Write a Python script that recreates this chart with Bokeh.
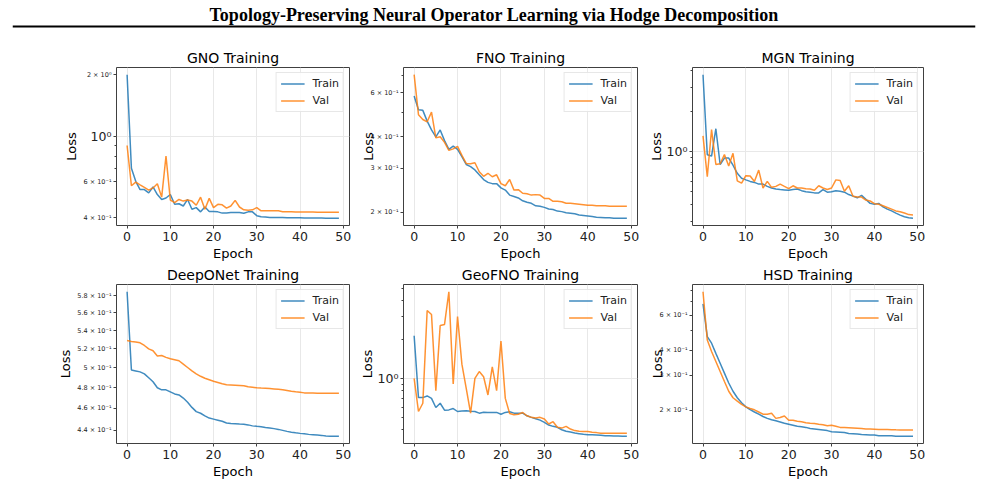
import numpy as np
from bokeh.plotting import figure
from bokeh.layouts import column, row
from bokeh.models import Range1d, FixedTicker, Label, Span
from bokeh.embed import file_html
from bokeh.resources import INLINE

SUPTITLE = "Topology-Preserving Neural Operator Learning via Hodge Decomposition"
epochs = list(range(50))
x_ticks = [0, 10, 20, 30, 40, 50]

gno_train = [2.0, 0.698, 0.603, 0.55, 0.55, 0.53, 0.566, 0.52, 0.492, 0.50,
             0.52, 0.466, 0.469, 0.457, 0.492, 0.441, 0.449, 0.428, 0.452, 0.430,
             0.430, 0.428, 0.422, 0.422, 0.425, 0.425, 0.425, 0.421, 0.428, 0.428,
             0.410, 0.405, 0.404, 0.402, 0.402, 0.402, 0.402, 0.401, 0.401, 0.400,
             0.400, 0.399, 0.399, 0.399, 0.399, 0.399, 0.398, 0.398, 0.398, 0.398]
gno_val = [0.902, 0.574, 0.598, 0.58, 0.564, 0.546, 0.56, 0.587, 0.505, 0.802,
           0.489, 0.475, 0.492, 0.483, 0.489, 0.483, 0.461, 0.505, 0.441, 0.498,
           0.449, 0.466, 0.463, 0.446, 0.457, 0.487, 0.452, 0.438, 0.436, 0.438,
           0.449, 0.433, 0.433, 0.433, 0.433, 0.433, 0.429, 0.428, 0.428, 0.427,
           0.427, 0.427, 0.427, 0.427, 0.426, 0.426, 0.426, 0.426, 0.426, 0.426]

fno_train = [0.582, 0.513, 0.51, 0.462, 0.426, 0.40, 0.426, 0.386, 0.356, 0.367,
             0.356, 0.333, 0.31, 0.304, 0.295, 0.282, 0.27, 0.263, 0.26, 0.26,
             0.25, 0.245, 0.234, 0.231, 0.228, 0.222, 0.219, 0.217, 0.212, 0.211,
             0.209, 0.206, 0.205, 0.202, 0.201, 0.199, 0.198, 0.197, 0.195, 0.194,
             0.193, 0.192, 0.191, 0.1905, 0.190, 0.190, 0.189, 0.189, 0.189, 0.189]
fno_val = [0.708, 0.49, 0.469, 0.459, 0.502, 0.396, 0.40, 0.38, 0.353, 0.358,
           0.366, 0.337, 0.313, 0.312, 0.315, 0.29, 0.278, 0.286, 0.277, 0.282,
           0.26, 0.255, 0.27, 0.245, 0.246, 0.238, 0.237, 0.234, 0.235, 0.234,
           0.227, 0.227, 0.221, 0.221, 0.22, 0.217, 0.217, 0.216, 0.215, 0.214,
           0.213, 0.213, 0.212, 0.212, 0.212, 0.211, 0.211, 0.211, 0.211, 0.211]

mgn_train = [3.75, 0.946, 0.925, 1.48, 0.80, 0.894, 0.894, 0.79, 0.687, 0.632,
             0.614, 0.598, 0.588, 0.571, 0.571, 0.549, 0.534, 0.525, 0.52, 0.517,
             0.513, 0.52, 0.525, 0.51, 0.50, 0.497, 0.491, 0.491, 0.52, 0.497,
             0.50, 0.51, 0.505, 0.497, 0.477, 0.464, 0.451, 0.47, 0.439, 0.41,
             0.404, 0.41, 0.386, 0.371, 0.36, 0.347, 0.335, 0.326, 0.32, 0.317]
mgn_val = [1.31, 0.65, 1.46, 0.80, 0.81, 0.95, 0.78, 0.97, 0.604, 0.58,
           0.66, 0.657, 0.598, 0.727, 0.534, 0.598, 0.54, 0.549, 0.571, 0.549,
           0.528, 0.555, 0.534, 0.534, 0.528, 0.525, 0.513, 0.555, 0.534, 0.52,
           0.534, 0.614, 0.607, 0.505, 0.555, 0.464, 0.457, 0.457, 0.434, 0.427,
           0.408, 0.404, 0.393, 0.382, 0.371, 0.36, 0.355, 0.347, 0.338, 0.336]

deeponet_train = [0.585, 0.498, 0.497, 0.496, 0.494, 0.49, 0.486, 0.48, 0.478, 0.478,
                  0.476, 0.474, 0.473, 0.47, 0.466, 0.461, 0.457, 0.4555, 0.453, 0.451,
                  0.450, 0.449, 0.448, 0.4465, 0.446, 0.4458, 0.4455, 0.4453, 0.4447, 0.4438,
                  0.4434, 0.4431, 0.4424, 0.4419, 0.4413, 0.4406, 0.4397, 0.4388, 0.4381, 0.4375,
                  0.4370, 0.4366, 0.4361, 0.4358, 0.4355, 0.4352, 0.4347, 0.4345, 0.4345, 0.4344]
deeponet_val = [0.529, 0.528, 0.5275, 0.5266, 0.5237, 0.520, 0.518, 0.5125, 0.513, 0.511,
                0.5095, 0.5085, 0.5075, 0.504, 0.5005, 0.497, 0.494, 0.4915, 0.4895, 0.488,
                0.4865, 0.4853, 0.484, 0.483, 0.4828, 0.4826, 0.4823, 0.482, 0.481, 0.4805,
                0.480, 0.4797, 0.4795, 0.4793, 0.4789, 0.4785, 0.478, 0.4773, 0.4766, 0.476,
                0.4757, 0.475, 0.4749, 0.4748, 0.4747, 0.4746, 0.4746, 0.4746, 0.4746, 0.4746]

geofno_train = [2.14, 0.71, 0.71, 0.731, 0.70, 0.595, 0.642, 0.567, 0.57, 0.584,
                0.554, 0.56, 0.562, 0.556, 0.554, 0.538, 0.547, 0.545, 0.545, 0.545,
                0.528, 0.545, 0.551, 0.538, 0.536, 0.538, 0.513, 0.499, 0.487, 0.475,
                0.456, 0.435, 0.425, 0.418, 0.40, 0.389, 0.384, 0.377, 0.373, 0.369,
                0.366, 0.365, 0.364, 0.362, 0.36, 0.359, 0.358, 0.357, 0.356, 0.356]
geofno_val = [1.0, 0.554, 0.642, 3.36, 3.13, 0.804, 2.57, 2.62, 4.70, 0.905,
              3.02, 1.29, 0.838, 0.538, 1.0, 1.13, 1.03, 0.744, 1.23, 0.804,
              1.95, 0.70, 0.535, 0.522, 0.528, 0.544, 0.513, 0.499, 0.493, 0.499,
              0.484, 0.443, 0.462, 0.418, 0.412, 0.425, 0.405, 0.394, 0.389, 0.388,
              0.387, 0.382, 0.380, 0.376, 0.375, 0.375, 0.375, 0.375, 0.375, 0.375]

hsd_train = [0.684, 0.468, 0.434, 0.386, 0.344, 0.307, 0.274, 0.249, 0.231, 0.218,
             0.208, 0.2015, 0.196, 0.191, 0.186, 0.182, 0.179, 0.177, 0.1745, 0.172,
             0.170, 0.168, 0.166, 0.165, 0.164, 0.162, 0.161, 0.160, 0.159, 0.158,
             0.156, 0.1555, 0.155, 0.1545, 0.153, 0.1525, 0.152, 0.151, 0.1505, 0.150,
             0.150, 0.149, 0.149, 0.149, 0.149, 0.148, 0.148, 0.148, 0.148, 0.148]
hsd_val = [0.787, 0.45, 0.394, 0.351, 0.313, 0.279, 0.249, 0.231, 0.222, 0.214,
           0.208, 0.204, 0.201, 0.196, 0.191, 0.191, 0.193, 0.182, 0.184, 0.187,
           0.178, 0.178, 0.176, 0.175, 0.173, 0.172, 0.1715, 0.170, 0.169, 0.167,
           0.168, 0.166, 0.164, 0.164, 0.1635, 0.163, 0.1625, 0.162, 0.161, 0.161,
           0.1605, 0.160, 0.160, 0.160, 0.1598, 0.1595, 0.1593, 0.159, 0.159, 0.159]

# y tick specification per panel: labelled ticks, their labels, unlabelled minor ticks
gno_ticks = [0.4, 0.6, 1.0, 2.0]
gno_labels = ["4 × 10⁻¹", "6 × 10⁻¹", "", "2 × 10⁰"]
gno_minor = [0.5, 0.7, 0.8, 0.9]
fno_ticks = [0.2, 0.3, 0.4, 0.6]
fno_labels = ["2 × 10⁻¹", "3 × 10⁻¹", "4 × 10⁻¹", "6 × 10⁻¹"]
fno_minor = [0.5, 0.7]
mgn_ticks = [1.0]
mgn_labels = ["10⁰"]
mgn_minor = [0.3, 0.4, 0.5, 0.6, 0.7, 0.8, 0.9, 2.0, 3.0, 4.0]
deeponet_ticks = [0.44, 0.46, 0.48, 0.5, 0.52, 0.54, 0.56, 0.58]
deeponet_labels = ["4.4 × 10⁻¹", "4.6 × 10⁻¹", "4.8 × 10⁻¹", "5 × 10⁻¹",
                   "5.2 × 10⁻¹", "5.4 × 10⁻¹", "5.6 × 10⁻¹", "5.8 × 10⁻¹"]
deeponet_minor = []
geofno_ticks = [1.0]
geofno_labels = ["10⁰"]
geofno_minor = [0.4, 0.5, 0.6, 0.7, 0.8, 0.9, 2.0, 3.0, 4.0, 5.0]
hsd_ticks = [0.2, 0.3, 0.4, 0.6]
hsd_labels = ["2 × 10⁻¹", "3 × 10⁻¹", "4 × 10⁻¹", "6 × 10⁻¹"]
hsd_minor = [0.5, 0.7, 0.8]

TRAIN_C = "#1f77b4"
VAL_C = "#ff7f0e"
FONT = "DejaVu Sans"
X_START, X_END = -2.45, 51.45


def panel(title, train, val, ticks, labels, minor, width, height, bl, br, bt, bb,
          tick_font="6.5px", big_decade=False, label_standoff=-9):
    lo = np.log10(min(min(train), min(val)))
    hi = np.log10(max(max(train), max(val)))
    pad = 0.05 * (hi - lo)
    ymin, ymax = 10 ** (lo - pad), 10 ** (hi + pad)
    p = figure(width=width, height=height, y_axis_type="log",
               x_range=Range1d(X_START, X_END), y_range=Range1d(ymin, ymax),
               output_backend="svg", toolbar_location=None,
               min_border_left=bl, min_border_right=br,
               min_border_top=bt, min_border_bottom=bb)
    p.title.text = title
    p.title.align = "center"
    p.title.text_font = FONT
    p.title.text_font_size = "14px"
    p.title.text_font_style = "normal"
    p.title.text_color = "black"
    p.title.standoff = 3
    p.outline_line_color = "#404040"
    p.outline_line_width = 1
    p.background_fill_color = "white"

    p.line(epochs, train, line_color=TRAIN_C, line_width=1.5, line_alpha=0.85,
           legend_label="Train")
    p.line(epochs, val, line_color=VAL_C, line_width=1.5, line_alpha=0.85,
           legend_label="Val")

    p.xaxis.ticker = FixedTicker(ticks=x_ticks, minor_ticks=[])
    p.xaxis.axis_label = "Epoch"
    p.yaxis.ticker = FixedTicker(ticks=ticks, minor_ticks=minor)
    p.yaxis.major_label_overrides = {t: l for t, l in zip(ticks, labels)}
    p.yaxis.axis_label = "Loss"
    p.yaxis.major_label_text_font_size = tick_font
    p.xaxis.major_label_text_font_size = "12.5px"
    for ax in (p.xaxis, p.yaxis):
        ax.axis_label_text_font = FONT
        ax.axis_label_text_font_size = "13px"
        ax.axis_label_text_font_style = "normal"
        ax.axis_label_text_color = "black"
        ax.major_label_text_font = FONT
        ax.major_label_text_color = "#222222"
        ax.axis_line_color = None
        ax.major_tick_line_color = "#404040"
        ax.minor_tick_line_color = "#404040"
        ax.major_tick_in = 0
        ax.major_tick_out = 3
        ax.minor_tick_in = 0
        ax.minor_tick_out = 2
    p.yaxis.major_label_standoff = 2
    p.yaxis.axis_label_standoff = label_standoff
    p.xaxis.major_label_standoff = 3
    p.xaxis.axis_label_standoff = 2

    p.xgrid.ticker = FixedTicker(ticks=x_ticks)
    p.xgrid.grid_line_color = "#e8e8e8"
    if ymin < 1.0 < ymax:
        p.ygrid.ticker = FixedTicker(ticks=[1.0])
        p.ygrid.grid_line_color = "#e8e8e8"
    else:
        p.ygrid.grid_line_color = None

    if big_decade:
        p.add_layout(Label(x=X_START, y=1.0, x_offset=-5, x_units="data", y_units="data",
                           text="10⁰", text_align="right", text_baseline="middle",
                           text_font=FONT, text_font_size="12.5px",
                           text_color="#222222"), "left")

    lg = p.legend[0]
    lg.location = "top_right"
    lg.label_text_font = FONT
    lg.label_text_font_size = "11px"
    lg.label_text_color = "#222222"
    lg.glyph_width = 24
    lg.glyph_height = 13
    lg.label_height = 13
    lg.label_standoff = 8
    lg.spacing = 4
    lg.padding = 4
    lg.margin = 5
    lg.border_line_color = "#d0d0d0"
    lg.border_line_width = 1
    lg.background_fill_color = "white"
    lg.background_fill_alpha = 0.85
    return p


W1, W2, W3 = 355, 290, 340
H1, H2 = 227, 218

f1 = panel("GNO Training", gno_train, gno_val, gno_ticks, gno_labels, gno_minor,
           W1, H1, 116, 6, 31, 35, big_decade=True, label_standoff=1)
f2 = panel("FNO Training", fno_train, fno_val, fno_ticks, fno_labels, fno_minor,
           W2, H1, 48, 8, 31, 35)
f3 = panel("MGN Training", mgn_train, mgn_val, mgn_ticks, mgn_labels, mgn_minor,
           W3, H1, 47, 62, 31, 35, tick_font="12.5px", label_standoff=0)
f4 = panel("DeepONet Training", deeponet_train, deeponet_val, deeponet_ticks,
           deeponet_labels, deeponet_minor, W1, H2, 116, 6, 19, 38, label_standoff=1)
f5 = panel("GeoFNO Training", geofno_train, geofno_val, geofno_ticks, geofno_labels,
           geofno_minor, W2, H2, 48, 8, 19, 38, tick_font="12.5px", label_standoff=0)
f6 = panel("HSD Training", hsd_train, hsd_val, hsd_ticks, hsd_labels, hsd_minor,
           W3, H2, 47, 62, 19, 38)

hdr = figure(width=985, height=36, x_range=Range1d(0, 1), y_range=Range1d(0, 36),
             output_backend="svg", toolbar_location=None,
             min_border_left=12, min_border_right=10, min_border_top=0, min_border_bottom=0)
hdr.axis.visible = False
hdr.grid.visible = False
hdr.outline_line_color = None
hdr.add_layout(Label(x=0.5, y=22, text=SUPTITLE, text_align="center", text_baseline="middle",
                     text_font="Liberation Serif", text_font_style="bold",
                     text_font_size="18px", text_color="black"))
hdr.add_layout(Span(location=10, dimension="width", line_color="black", line_width=2))

layout = column(hdr, row(f1, f2, f3), row(f4, f5, f6))
open("out.html", "w").write(file_html(layout, INLINE))
